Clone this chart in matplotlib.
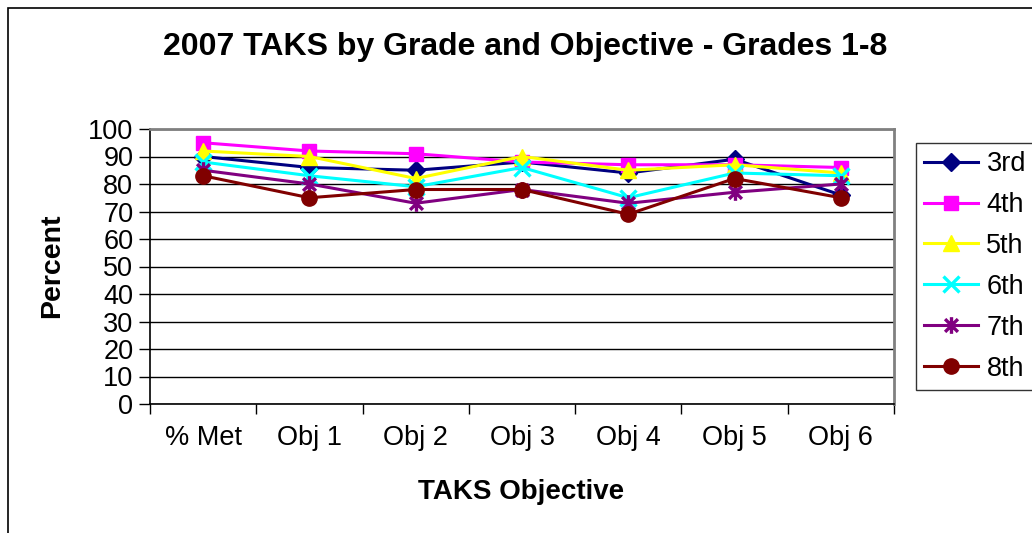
import matplotlib
matplotlib.use('Agg')
import matplotlib.pyplot as plt
from matplotlib.patches import Rectangle
from matplotlib.path import Path

plt.rcParams['font.family'] = ['Liberation Sans', 'DejaVu Sans']

# data
objectives = ['% Met', 'Obj 1', 'Obj 2', 'Obj 3', 'Obj 4', 'Obj 5', 'Obj 6']
grades = ['3rd', '4th', '5th', '6th', '7th', '8th']
g3 = [90, 86, 85, 88, 84, 89, 76]
g4 = [95, 92, 91, 88, 87, 87, 86]
g5 = [92, 90, 82, 90, 85, 87, 84]
g6 = [88, 83, 79, 86, 75, 84, 83]
g7 = [85, 80, 73, 78, 73, 77, 80]
g8 = [83, 75, 78, 78, 69, 82, 75]
series = [g3, g4, g5, g6, g7, g8]

# excel-style asterisk: an X with a vertical bar through it
star = Path([(-1, -1), (1, 1), (-1, 1), (1, -1), (0, -1.3), (0, 1.3)],
            [Path.MOVETO, Path.LINETO, Path.MOVETO, Path.LINETO, Path.MOVETO, Path.LINETO])

colors = ['#000080', '#FF00FF', '#FFFF00', '#00FFFF', '#800080', '#800000']
markers = ['D', 's', '^', 'x', star, 'o']
msizes = [9, 10, 11, 11, 12, 11]

W, H = 1032, 533
fig = plt.figure(figsize=(W / 100, H / 100), dpi=100)
fig.patch.set_facecolor('white')

# outer chart frame (only left/top visible in the crop)
fig.patches.append(Rectangle((8 / W, -0.1), 1.2, 1.1 - 8 / H, transform=fig.transFigure,
                             fill=False, edgecolor='black', linewidth=1.2))

ax = fig.add_axes([150 / W, 1 - 404 / H, (894 - 150) / W, (404 - 129) / H])

x = list(range(len(objectives)))
for vals, name, c, m, ms in zip(series, grades, colors, markers, msizes):
    thin = isinstance(m, Path) or m == 'x'
    ax.plot(x, vals, color=c, linewidth=2.2, marker=m, markersize=ms,
            markerfacecolor=c, markeredgecolor=c,
            markeredgewidth=2.4 if thin else 1,
            label=name, clip_on=False, zorder=3)

ax.set_xlim(-0.5, len(objectives) - 0.5)
ax.set_ylim(0, 100)
ax.set_yticks(range(0, 101, 10))
ax.set_xticks(x)
ax.set_xticklabels(objectives, fontsize=19.5)
ax.set_xticks([i - 0.5 for i in range(len(objectives) + 1)], minor=True)
ax.tick_params(axis='x', which='major', length=0, pad=15)
ax.tick_params(axis='x', which='minor', length=7, width=1, direction='out', color='black')
ax.tick_params(axis='y', labelsize=19.5, length=8, width=1, direction='out', pad=4)
ax.yaxis.grid(True, color='black', linewidth=1)
ax.set_axisbelow(True)

for s in ['left', 'bottom']:
    ax.spines[s].set_color('black')
    ax.spines[s].set_linewidth(1.2)
for s in ['top', 'right']:
    ax.spines[s].set_color('#808080')
    ax.spines[s].set_linewidth(2)

fig.text(525 / W, 1 - 47 / H, '2007 TAKS by Grade and Objective - Grades 1-8',
         ha='center', va='center', fontsize=23, fontweight='bold')
fig.text(52 / W, 1 - 266 / H, 'Percent', ha='center', va='center', rotation=90,
         fontsize=20.5, fontweight='bold')
fig.text(521 / W, 1 - 492 / H, 'TAKS Objective', ha='center', va='center',
         fontsize=20, fontweight='bold')

leg = fig.legend(loc='upper left', bbox_to_anchor=(916 / W, 1 - 143 / H), fontsize=19.5,
                 frameon=True, fancybox=False, edgecolor='black', handlelength=2.0,
                 handletextpad=0.3, labelspacing=0.55, borderpad=0.3, borderaxespad=0)
leg.get_frame().set_linewidth(1)

fig.savefig('out.png', dpi=100)
